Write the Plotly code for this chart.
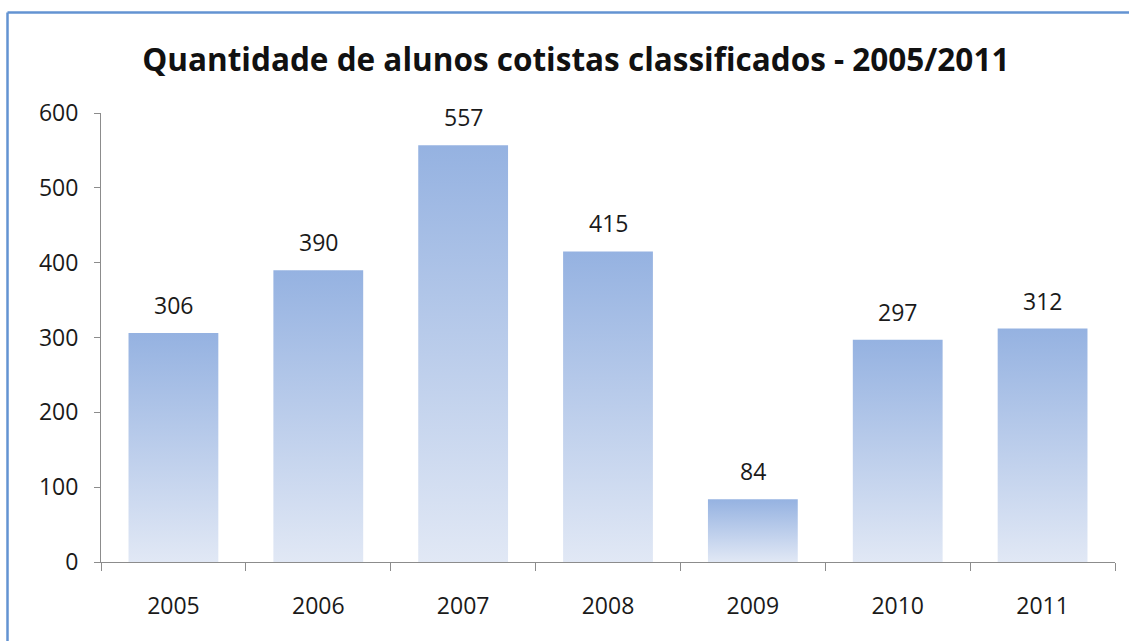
import plotly.graph_objects as go

years = ["2005", "2006", "2007", "2008", "2009", "2010", "2011"]
alunos = [306, 390, 557, 415, 84, 297, 312]
y_ticks = [0, 100, 200, 300, 400, 500, 600]
title_text = "Quantidade de alunos cotistas classificados - 2005/2011"

FONT = "Open Sans"
BAR_W = 0.62
TOP_C = "rgb(149,178,225)"
BOT_C = "rgb(225,232,245)"

fig = go.Figure()
positions = list(range(len(years)))

for i, v in zip(positions, alunos):
    fig.add_trace(go.Scatter(
        x=[i - BAR_W / 2, i + BAR_W / 2, i + BAR_W / 2, i - BAR_W / 2, i - BAR_W / 2],
        y=[0, 0, v, v, 0],
        mode="lines", line=dict(width=0), fill="toself",
        fillgradient=dict(type="vertical", start=0, stop=v,
                          colorscale=[[0, BOT_C], [1, TOP_C]]),
        hoverinfo="skip", showlegend=False,
    ))

fig.add_trace(go.Bar(
    x=positions, y=alunos, width=BAR_W,
    marker=dict(color="rgba(0,0,0,0)", line=dict(width=0)),
    showlegend=False, hovertemplate="%{text}: %{y}<extra></extra>", text=years,
    textposition="none",
))

for i, v in zip(positions, alunos):
    fig.add_annotation(x=i, y=v, text=str(v), showarrow=False,
                       yanchor="middle", yshift=28,
                       font=dict(family=FONT, size=23, color="#1a1a1a"))

fig.add_trace(go.Scatter(x=positions, y=[None] * len(years), xaxis="x2",
                         showlegend=False, hoverinfo="skip"))

# frame (left and top edges)
fig.add_shape(type="line", xref="paper", yref="paper",
              x0=(7.5 - 101) / 1014, x1=(7.5 - 101) / 1014,
              y0=-79 / 449, y1=(641 - 12.5 - 79) / 449,
              line=dict(color="#6393d2", width=2.5))
fig.add_shape(type="line", xref="paper", yref="paper",
              x0=(7.5 - 101) / 1014, x1=(1129 - 101) / 1014,
              y0=(641 - 12.5 - 79) / 449, y1=(641 - 12.5 - 79) / 449,
              line=dict(color="#6393d2", width=2.5))

fig.update_layout(
    width=1129, height=641,
    margin=dict(l=101, r=14, t=113, b=79),
    paper_bgcolor="white", plot_bgcolor="white",
    title=dict(text=title_text, x=0.51, xanchor="center", y=0.907, yanchor="middle",
               font=dict(family=FONT, size=31.5, color="#111111", weight="bold")),
    xaxis=dict(range=[-0.5, 6.5], tickvals=[p - 0.5 for p in positions] + [6.5],
               ticktext=[""] * 8, ticks="outside", ticklen=8, tickcolor="#8c8c8c",
               showline=True, linecolor="#8c8c8c", linewidth=1, showgrid=False,
               zeroline=False, fixedrange=True),
    xaxis2=dict(range=[-0.5, 6.5], overlaying="x", anchor="y", side="bottom",
                tickvals=positions, ticktext=years, ticks="", showline=False,
                showgrid=False, zeroline=False, ticklabelstandoff=28,
                tickfont=dict(family=FONT, size=23, color="#1a1a1a")),
    yaxis=dict(range=[0, 600], tickvals=y_ticks, ticks="outside", ticklen=6,
               tickcolor="#8c8c8c", showline=True, linecolor="#8c8c8c", linewidth=1,
               showgrid=False, zeroline=False, ticklabelstandoff=11,
               tickfont=dict(family=FONT, size=23, color="#1a1a1a")),
)

fig.write_html("out.html", config={"displayModeBar": False},
               post_script="document.body.style.margin='0';")
